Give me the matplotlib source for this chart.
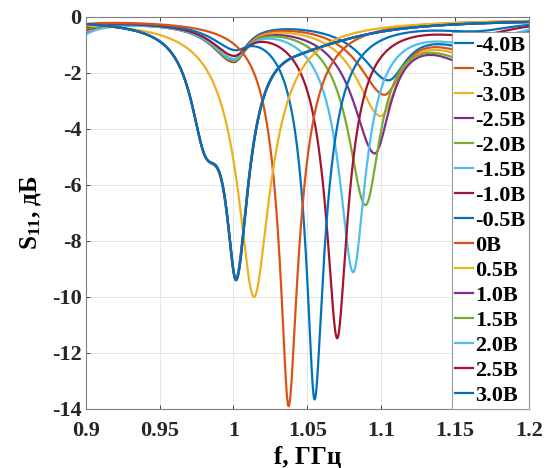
import numpy as np
import matplotlib.pyplot as plt

plt.rcParams['font.family'] = ['Liberation Serif', 'DejaVu Serif']
plt.rcParams['font.weight'] = 'bold'
plt.rcParams['axes.unicode_minus'] = False
plt.rcParams['mathtext.fontset'] = 'custom'
plt.rcParams['mathtext.rm'] = 'Liberation Serif:bold'
plt.rcParams['mathtext.bf'] = 'Liberation Serif:bold'
plt.rcParams['mathtext.it'] = 'Liberation Serif:bold'

labels = ['-4.0B', '-3.5B', '-3.0B', '-2.5B', '-2.0B', '-1.5B', '-1.0B', '-0.5B',
          '0B', '0.5B', '1.0B', '1.5B', '2.0B', '2.5B', '3.0B']
colors = ['#0072BD', '#D95319', '#EDB120', '#7E2F8E', '#77AC30', '#4DBEEE', '#A2142F'] * 3

# main resonance of each curve: centre (GHz), depth (dB), half-widths left / right
main_f = [1.1045, 1.102, 1.0995, 1.0955, 1.0893, 1.081, 1.0702, 1.0549,
          1.0373, 1.0139, 1.0018, 1.0019, 1.002, 1.002, 1.002]
main_db = [-1.95, -2.45, -3.2, -4.5, -6.4, -8.9, -11.3, -13.5,
           -13.8, -9.9, -8.1, -8.1, -8.15, -8.15, -8.15]
main_wl = [0.024, 0.024, 0.024, 0.023, 0.021, 0.02, 0.019, 0.017,
           0.018, 0.025, 0.014, 0.014, 0.014, 0.014, 0.014]
main_wr = [0.017, 0.017, 0.017, 0.017, 0.018, 0.018, 0.018, 0.019,
           0.02, 0.025, 0.017, 0.017, 0.017, 0.017, 0.017]

# weak dip near 1 GHz (negative bias) / shoulder near 0.981 GHz (positive bias)
sec_f = [1.0, 1.0, 1.0, 1.0, 1.0, 1.0, 1.0, 1.0,
         1.0, 1.0, 0.981, 0.981, 0.981, 0.981, 0.981]
sec_db = [-1.3, -1.35, -1.35, -1.3, -1.25, -1.15, -1.0, -0.7,
          0.0, 0.0, -3.5, -3.5, -3.5, -3.5, -3.5]
sec_wl = [0.019] * 10 + [0.015] * 5
sec_wr = [0.012] * 10 + [0.016] * 5

# broad shallow dip above the main one
tail_f = [1.165] * 10 + [1.05] * 5
tail_db = [-0.9, -1.05, -1.17, -1.5, -1.32, -0.7, -0.43, -0.3,
           0.0, 0.0, -0.6, -0.6, -0.6, -0.6, -0.6]
tail_wl = [0.035] * 10 + [0.03] * 5
tail_wr = [0.03] * 10 + [0.05] * 5

# level at the left edge (resonance below 0.9 GHz)
edge_db = [-0.9, -0.8, -0.7, -0.6, -0.5, -0.95, -0.4, -0.3,
           -0.2, -0.1, 0.0, 0.0, 0.0, 0.0, 0.0]
base_db = -0.1

f = np.linspace(0.9, 1.2, 1501)


def dip_db(f0, depth, wl, wr):
    a = 1 - 10 ** (depth / 10)
    w = np.where(f < f0, wl, wr)
    return 10 * np.log10(1 - a / (1 + ((f - f0) / w) ** 2))


fig = plt.figure(figsize=(5.48, 4.68), dpi=100)
ax = fig.add_axes([85.7 / 548, 1 - 409 / 468, 443.3 / 548, 392.5 / 468])

for i in range(len(labels)):
    s11 = (base_db
           + dip_db(main_f[i], main_db[i], main_wl[i], main_wr[i])
           + dip_db(sec_f[i], sec_db[i], sec_wl[i], sec_wr[i])
           + dip_db(tail_f[i], tail_db[i], tail_wl[i], tail_wr[i])
           + dip_db(0.885, edge_db[i], 0.015, 0.015))
    ax.plot(f, s11, color=colors[i], lw=1.6, label=labels[i])

ax.set_xlim(0.9, 1.2)
ax.set_ylim(-14, 0)
ax.set_xticks([0.9, 0.95, 1.0, 1.05, 1.1, 1.15, 1.2])
ax.set_xticklabels(['0.9', '0.95', '1', '1.05', '1.1', '1.15', '1.2'])
ax.set_yticks(range(-14, 1, 2))
ax.set_yticklabels([str(v) for v in range(-14, 1, 2)])
ax.tick_params(direction='in', length=3, width=0.6, labelsize=16, colors='#262626',
               top=True, right=True)
ax.tick_params(axis='x', pad=9)
ax.tick_params(axis='y', pad=3)
ax.grid(True, color='#e6e6e6', lw=0.7)
for sp in ax.spines.values():
    sp.set_color('#7f7f7f')
    sp.set_linewidth(0.8)

ax.set_xlabel('f, ГГц', fontsize=18, fontweight='bold', labelpad=3)
ax.set_ylabel(r'S$_{11}$, дБ', fontsize=18, fontweight='bold', labelpad=6)

leg = ax.legend(loc='lower right', bbox_to_anchor=(1, 0), borderaxespad=0,
                fontsize=16, handlelength=0.8, handletextpad=0.1,
                labelspacing=0.2, borderpad=0.15, framealpha=1,
                fancybox=False, edgecolor='#999999')
leg.get_frame().set_linewidth(0.8)

fig.savefig('out.png', dpi=100)
